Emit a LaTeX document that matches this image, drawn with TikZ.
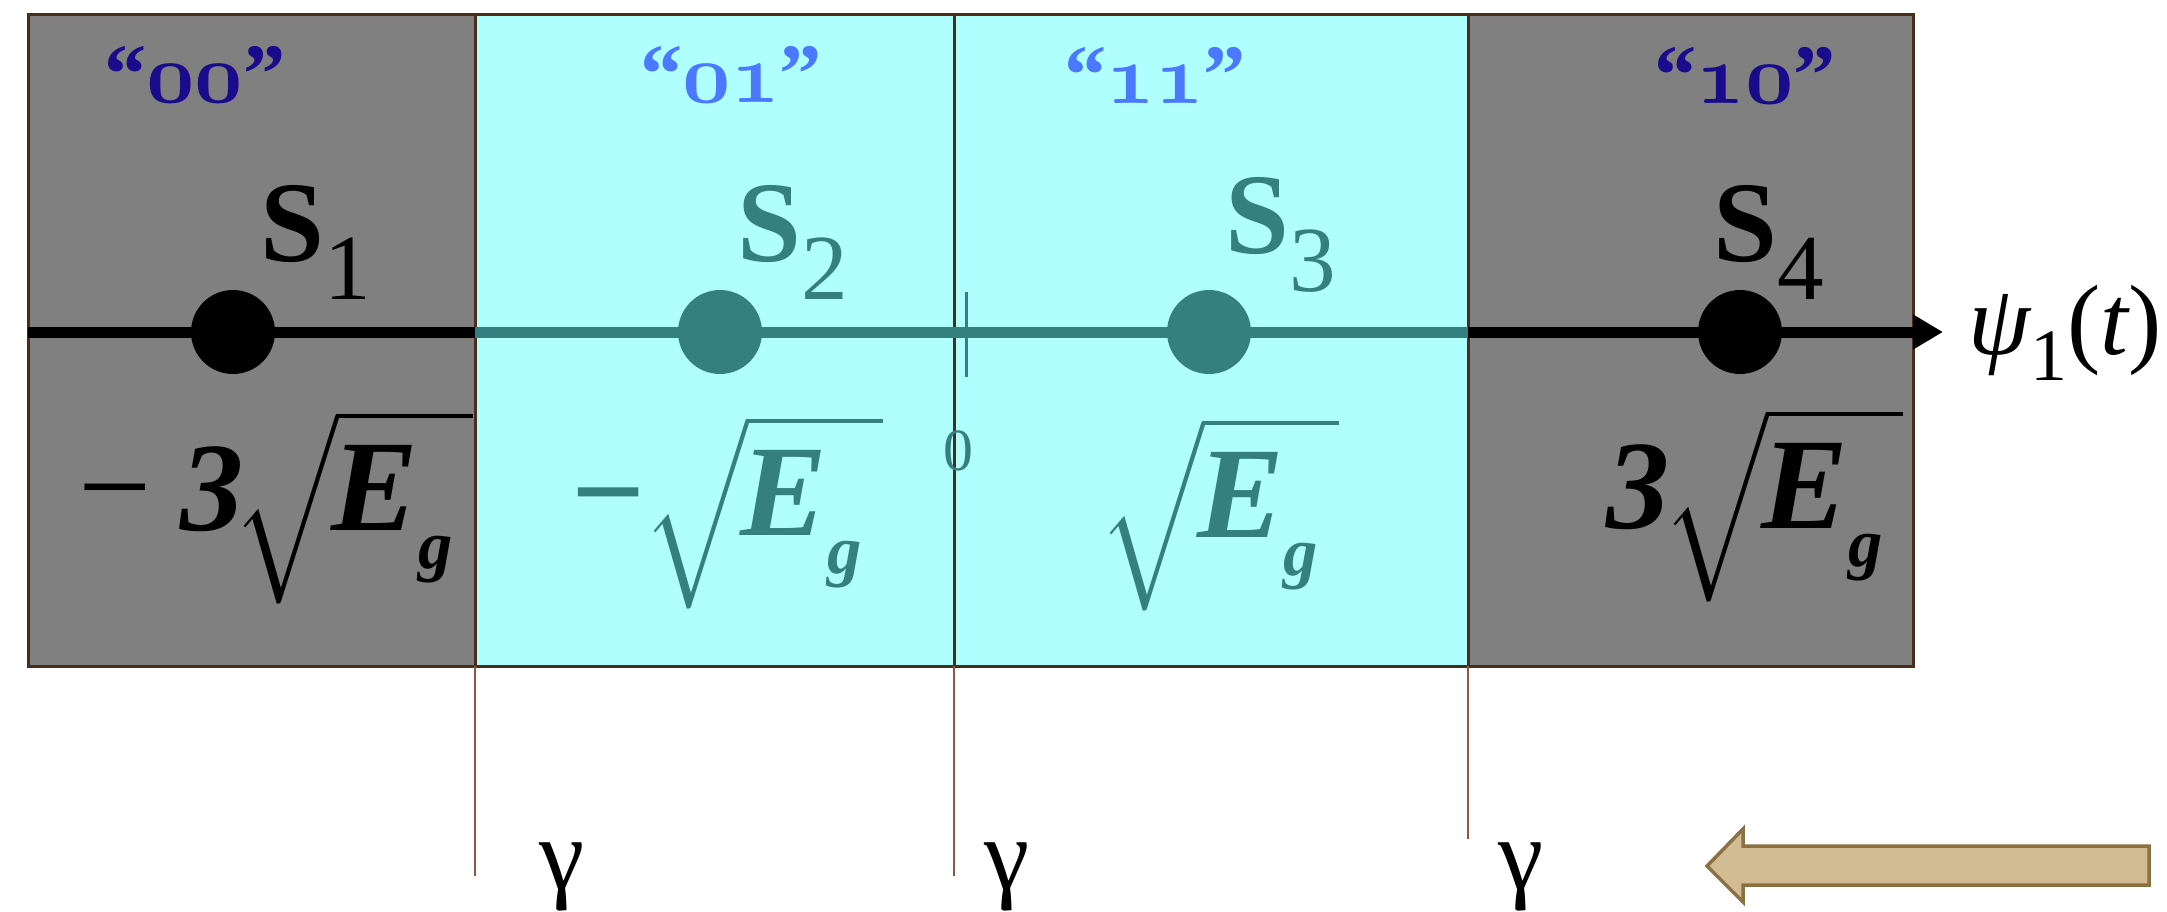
\RequirePackage{fix-cm}
\documentclass[tikz,border=0pt]{standalone}
\usepackage{fontspec}
\setmainfont{Liberation Serif}
\usetikzlibrary{arrows.meta}
\DeclareFontShape{OMX}{cmex}{m}{n}{<->cmex10}{}

\definecolor{regiongray}{HTML}{808080}
\definecolor{regioncyan}{HTML}{B0FFFF}
\definecolor{edgebrown}{HTML}{4A2C1C}
\definecolor{linebrown}{HTML}{8A5A3E}
\definecolor{ptteal}{HTML}{348080}
\definecolor{navylabel}{HTML}{1A0A8C}
\definecolor{bluelabel}{HTML}{4A78FF}
\definecolor{arrowtan}{HTML}{D2BC93}
\definecolor{arrowedge}{HTML}{8B7142}

% old style bits, point names and root terms
\newcommand{\oddig}[1]{{\boldmath$\mathnormal{#1}$}}
\newcommand{\sname}[1]{{\fontsize{32.7}{36}\selectfont\bfseries S}\raisebox{-11pt}{\fontsize{26.5}{30}\selectfont #1}}
\newcommand{\rtE}{{\fontsize{30}{30}\selectfont$\sqrt{\hbox{\kern-2pt\fontsize{37}{40}\selectfont\bfseries\itshape E\raisebox{-10.9pt}{\fontsize{19.5}{20}\selectfont g}\kern6pt}}$}}
\newcommand{\mns}{{\fontsize{37}{40}\selectfont −}}
\newcommand{\three}{{\fontsize{36}{40}\selectfont\bfseries\itshape 3}}

\begin{document}
\begin{tikzpicture}[
    region/.style={draw=edgebrown, line width=0.03cm},
    pt/.style={circle, inner sep=0pt, minimum size=0.84cm},
    bits/.style={anchor=base, inner sep=0pt, font=\fontsize{24}{28}\selectfont\bfseries},
    lbl/.style={anchor=base west, inner sep=0pt},
    axis/.style={line width=0.11cm},
    thresh/.style={linebrown, line width=0.025cm}
  ]
  \useasboundingbox (0,0) rectangle (21.67,9.11);

  % Regions
  \fill[regiongray] (0.28,2.45) rectangle (4.75,8.97);
  \fill[regioncyan] (4.75,2.45) rectangle (14.68,8.97);
  \fill[regiongray] (14.68,2.45) rectangle (19.13,8.97);
  \draw[region] (0.28,2.45) rectangle (19.13,8.97);
  \draw[region] (9.54,2.45) -- (9.54,8.97);

  % Thresholds
  \coordinate (top1) at (4.75,8.97);
  \coordinate (top2) at (9.54,2.45);
  \coordinate (top3) at (14.68,8.97);
  \coordinate (end1) at (4.75,0.35);
  \coordinate (end2) at (9.54,0.35);
  \coordinate (end3) at (14.68,0.72);
  \draw[region] (top1) -- (4.75,2.45);
  \draw[region] (top3) -- (14.68,2.45);
  \draw[thresh] (4.75,2.45) -- (end1);
  \draw[thresh] (top2) -- (end2);
  \draw[thresh] (14.68,2.45) -- (end3);

  % Axis
  \coordinate (ax0) at (0.28,5.79);
  \coordinate (ax1) at (4.75,5.79);
  \coordinate (ax2) at (14.68,5.79);
  \coordinate (ax3) at (19.43,5.79);
  \draw[axis] (ax0) -- (ax1);
  \draw[axis, ptteal] (ax1) -- (ax2);
  \draw[axis, -{Triangle[length=0.3cm,width=0.33cm]}] (ax2) -- (ax3);
  \draw[ptteal, line width=0.03cm] (9.66,5.34) -- (9.66,6.19);
  \node[lbl] (psi) at (19.68,5.57) {\fontsize{28.4}{30}\selectfont\itshape ψ\raisebox{-7.4pt}{\upshape\fontsize{21}{22}\selectfont 1}\upshape(\itshape t\upshape)};
  \node[anchor=base, inner sep=0pt, ptteal] (zero) at (9.58,4.41) {\fontsize{17}{18}\selectfont 0};

  % Points
  \node[pt, fill=black] (s1) at (2.33,5.79) {};
  \node[pt, fill=ptteal] (s2) at (7.20,5.79) {};
  \node[pt, fill=ptteal] (s3) at (12.09,5.79) {};
  \node[pt, fill=black] (s4) at (17.40,5.79) {};

  % Bits
  \node[bits, navylabel] (b1) at (1.95,8.09) {“\oddig{00}”};
  \node[bits, bluelabel] (b2) at (7.31,8.09) {“\oddig{01}”};
  \node[bits, bluelabel] (b3) at (11.55,8.08) {“\oddig{11}”};
  \node[bits, navylabel] (b4) at (17.45,8.08) {“\oddig{10}”};

  % Names
  \node[lbl] (n1) at (2.60,6.50) {\sname{1}};
  \node[lbl, ptteal] (n2) at (7.37,6.50) {\sname{2}};
  \node[lbl, ptteal] (n3) at (12.25,6.58) {\sname{3}};
  \node[lbl] (n4) at (17.13,6.50) {\sname{4}};

  % Amplitudes
  \node[lbl] (a1) at (0.78,3.81) {\mns\hspace{8pt}\three\kern-3pt\rtE};
  \node[lbl, ptteal] (a2) at (5.71,3.76) {{\bfseries\mns}\kern-1pt\rtE};
  \node[lbl, ptteal] (a3) at (10.98,3.74) {\rtE};
  \node[lbl] (a4) at (16.06,3.83) {\three\kern-2pt\rtE};

  % Gamma
  \node[anchor=base, inner sep=0pt] (g1) at (5.62,0.22) {\fontsize{29}{30}\selectfont γ};
  \node[anchor=base, inner sep=0pt] (g2) at (10.07,0.22) {\fontsize{29}{30}\selectfont γ};
  \node[anchor=base, inner sep=0pt] (g3) at (15.21,0.22) {\fontsize{29}{30}\selectfont γ};

  % Direction arrow
  \filldraw[fill=arrowtan, draw=arrowedge, line width=0.035cm]
    (17.07,0.45) -- (17.43,0.82) -- (17.43,0.65) -- (21.49,0.65)
    -- (21.49,0.26) -- (17.43,0.26) -- (17.43,0.09) -- cycle;
\end{tikzpicture}
\end{document}
